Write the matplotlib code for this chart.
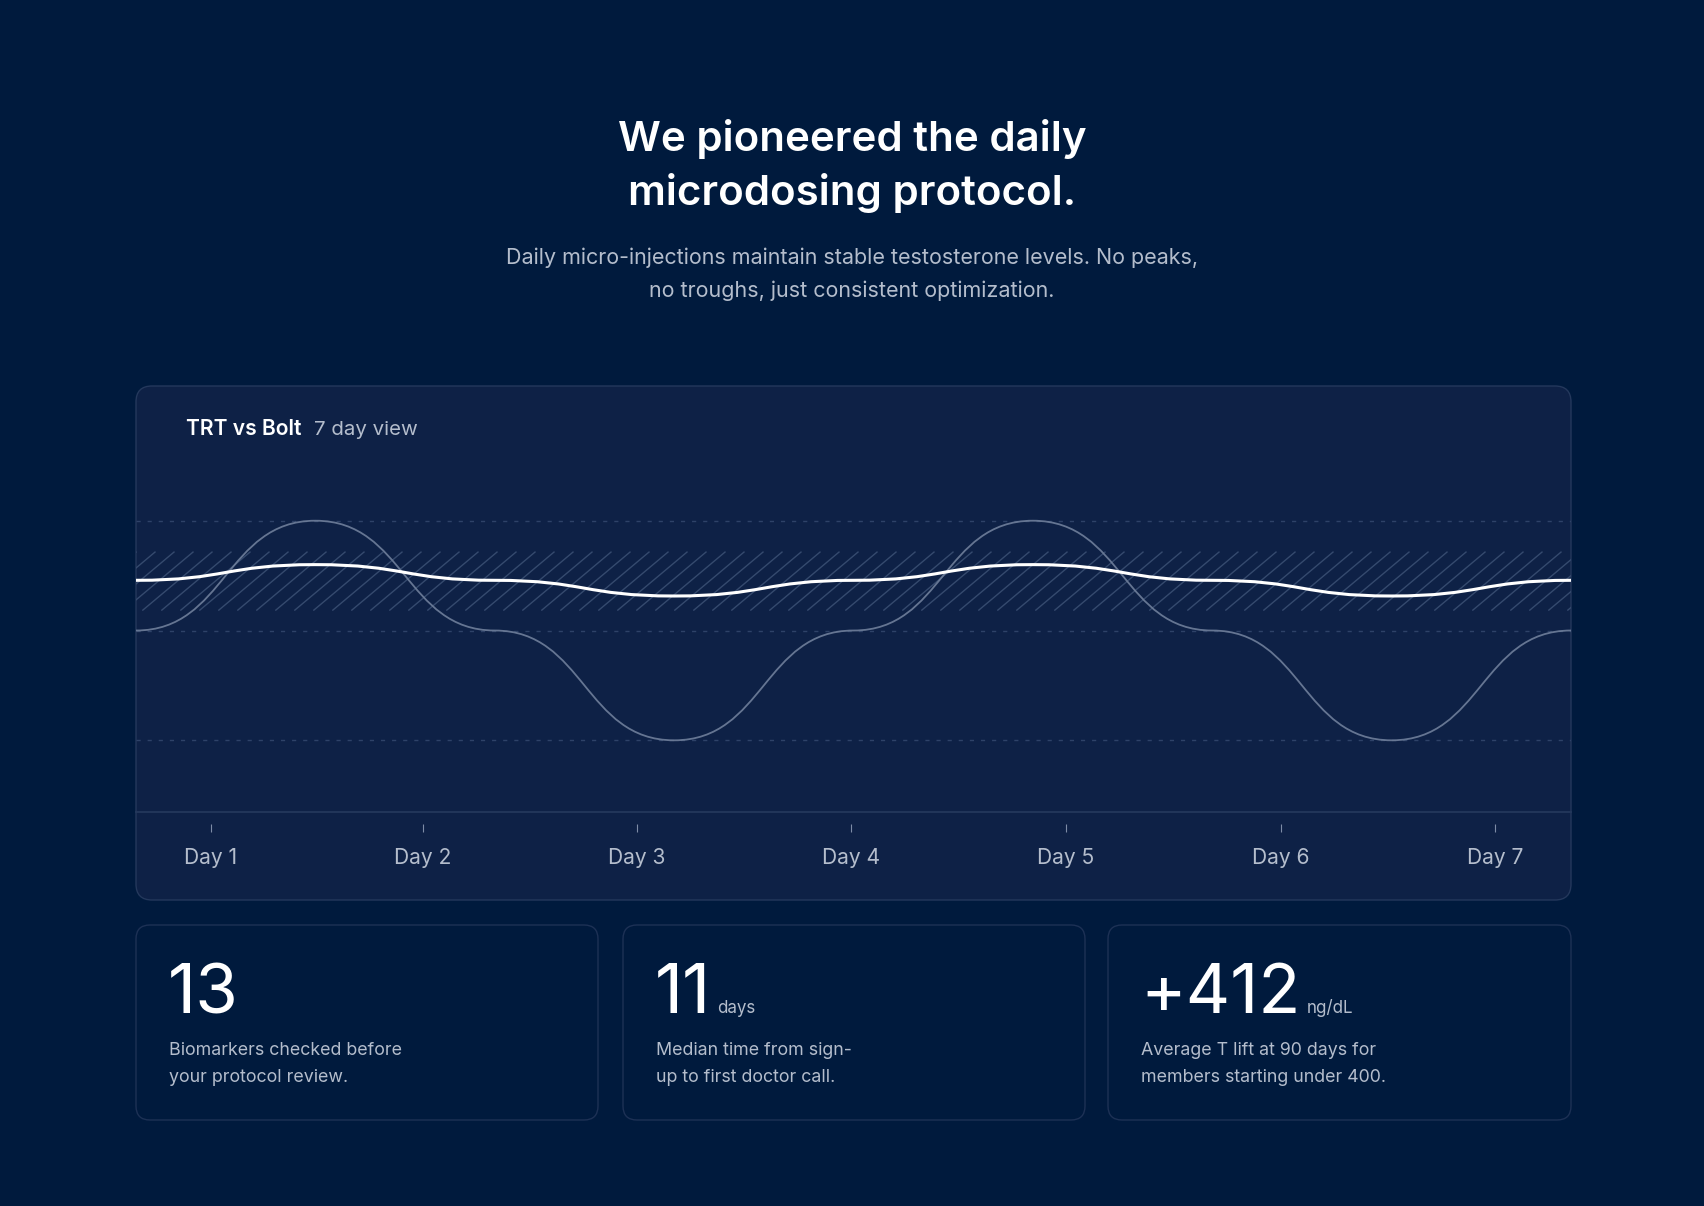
import matplotlib
matplotlib.use("Agg")
import matplotlib.pyplot as plt
from matplotlib.patches import FancyBboxPatch, Rectangle
from matplotlib.path import Path
from matplotlib.patches import PathPatch
from matplotlib.lines import Line2D
from matplotlib.transforms import IdentityTransform
import numpy as np

plt.rcParams["font.family"] = ["Inter", "DejaVu Sans"]

# ---- data -------------------------------------------------------------
time_pts = [0.0, 0.125, 0.25, 0.375, 0.5, 0.625, 0.75, 0.875, 1.0]
trt_level = [650, 1000, 650, 300, 650, 1000, 650, 300, 650]
bolt_level = [810, 860, 810, 760, 810, 860, 810, 760, 810]
optimal_range = [715, 900]
ref_levels = [1000, 650, 300]

day_labels = ["Day 1", "Day 2", "Day 3", "Day 4", "Day 5", "Day 6", "Day 7"]
day_pos = [0.052, 0.200, 0.349, 0.498, 0.648, 0.798, 0.947]

stat_values = ["13", "11", "+412"]
stat_units = ["", "days", "ng/dL"]
stat_desc = [
    ["Biomarkers checked before", "your protocol review."],
    ["Median time from sign-", "up to first doctor call."],
    ["Average T lift at 90 days for", "members starting under 400."],
]

# ---- style ------------------------------------------------------------
W, H, DPI = 1704, 1206, 100
PT = 72 / DPI  # px -> pt
BG = "#001a3d"
CARD = "#0e2146"
CARD_EDGE = "#24385c"
STAT_EDGE = "#1d3155"
MUTED = "#b4bdcc"
GRID = "#2e4268"
HATCH = "#354a6e"
TRT = "#6f7f9b"


def smooth_path(xs, ys, k=0.5):
    verts = [(xs[0], ys[0])]
    codes = [Path.MOVETO]
    for x0, y0, x1, y1 in zip(xs[:-1], ys[:-1], xs[1:], ys[1:]):
        dx = x1 - x0
        verts += [(x0 + dx * k, y0), (x1 - dx * k, y1), (x1, y1)]
        codes += [Path.CURVE4] * 3
    return Path(verts, codes)


fig = plt.figure(figsize=(W / DPI, H / DPI), dpi=DPI, facecolor=BG)
bg = fig.add_axes([0, 0, 1, 1])
bg.set_xlim(0, W)
bg.set_ylim(H, 0)
bg.axis("off")
bg.set_facecolor(BG)

# header
bg.text(W / 2, 151, "We pioneered the daily", ha="center", va="baseline",
        color="white", fontsize=42 * PT, fontweight="semibold")
bg.text(W / 2, 205, "microdosing protocol.", ha="center", va="baseline",
        color="white", fontsize=42 * PT, fontweight="semibold")
bg.text(W / 2, 264, "Daily micro-injections maintain stable testosterone levels. No peaks,",
        ha="center", va="baseline", color=MUTED, fontsize=21.5 * PT)
bg.text(W / 2, 297, "no troughs, just consistent optimization.",
        ha="center", va="baseline", color=MUTED, fontsize=21.5 * PT)

# chart card
card_l, card_r, card_t, card_b = 136, 1571, 386, 900
bg.add_patch(FancyBboxPatch((card_l, card_t), card_r - card_l, card_b - card_t,
                            boxstyle="round,pad=0,rounding_size=16",
                            facecolor=CARD, edgecolor=CARD_EDGE, lw=1.0))

renderer = fig.canvas.get_renderer()
t1 = bg.text(186, 435, "TRT vs Bolt", ha="left", va="baseline", color="white",
             fontsize=21 * PT, fontweight="semibold")
bb = t1.get_window_extent(renderer)
x_end = bg.transData.inverted().transform((bb.x1, bb.y0))[0]
bg.text(x_end + 12, 435, "7 day view", ha="left", va="baseline", color=MUTED,
        fontsize=20.5 * PT)

# stat cards
stat_boxes = [(136, 598), (623, 1085), (1108, 1571)]
for (l, r), val, unit, desc in zip(stat_boxes, stat_values, stat_units, stat_desc):
    bg.add_patch(FancyBboxPatch((l, 925), r - l, 195,
                                boxstyle="round,pad=0,rounding_size=14",
                                facecolor=BG, edgecolor=STAT_EDGE, lw=1.0))
    tv = bg.text(l + 32, 1013, val, ha="left", va="baseline", color="white",
                 fontsize=69 * PT)
    if unit:
        bb = tv.get_window_extent(renderer)
        xe = bg.transData.inverted().transform((bb.x1, bb.y0))[0]
        bg.text(xe + 6, 1013, unit, ha="left", va="baseline", color=MUTED,
                fontsize=17 * PT)
    for j, line in enumerate(desc):
        bg.text(l + 33, 1055 + 26.5 * j, line, ha="left", va="baseline",
                color=MUTED, fontsize=17.8 * PT)

# ---- plot axes ----------------------------------------------------------
ax_top, ax_bot = 460, 812
ax = fig.add_axes([card_l / W, 1 - ax_bot / H, (card_r - card_l) / W,
                   (ax_bot - ax_top) / H])
ax.set_facecolor("none")
ax.set_xlim(0, 1)
ax.set_ylim(71.5, 1193.5)
for s in ax.spines.values():
    s.set_visible(False)
ax.axhline(71.5, color=CARD_EDGE, lw=1.3, clip_on=False)

for lv in ref_levels:
    ax.axhline(lv, color=GRID, lw=1.0, dashes=(3, 5), zorder=1)

# optimal band, hatched by hand
fig.canvas.draw()
(bx0, by0), (bx1, by1) = ax.transData.transform(
    [(0, optimal_range[0]), (1, optimal_range[1])])
band = Rectangle((0, optimal_range[0]), 1, optimal_range[1] - optimal_range[0],
                 facecolor="none", edgecolor="none")
ax.add_patch(band)
rise = by1 - by0
run = rise / np.tan(np.radians(40))
for xs in np.arange(bx0 - run, bx1 + 1, 19.0):
    ln = Line2D([xs, xs + run], [by0, by1], transform=IdentityTransform(),
                color=HATCH, lw=1.0, zorder=1.5)
    ln.set_clip_path(band)
    ax.add_artist(ln)

ax.add_patch(PathPatch(smooth_path(time_pts, trt_level), facecolor="none",
                       edgecolor=TRT, lw=1.3, alpha=0.9, zorder=3))
ax.add_patch(PathPatch(smooth_path(time_pts, bolt_level), facecolor="none",
                       edgecolor="white", lw=2.2, zorder=4))

ax.set_yticks([])
ax.set_xticks(day_pos)
ax.set_xticklabels(day_labels)
ax.spines["bottom"].set_position(("outward", 12 * PT))
ax.tick_params(axis="x", direction="out", length=8 * PT, width=0.8,
               color="#7d8ca6", labelcolor=MUTED, labelsize=21 * PT, pad=16.5 * PT)

fig.savefig("out.png", dpi=DPI, facecolor=BG)
